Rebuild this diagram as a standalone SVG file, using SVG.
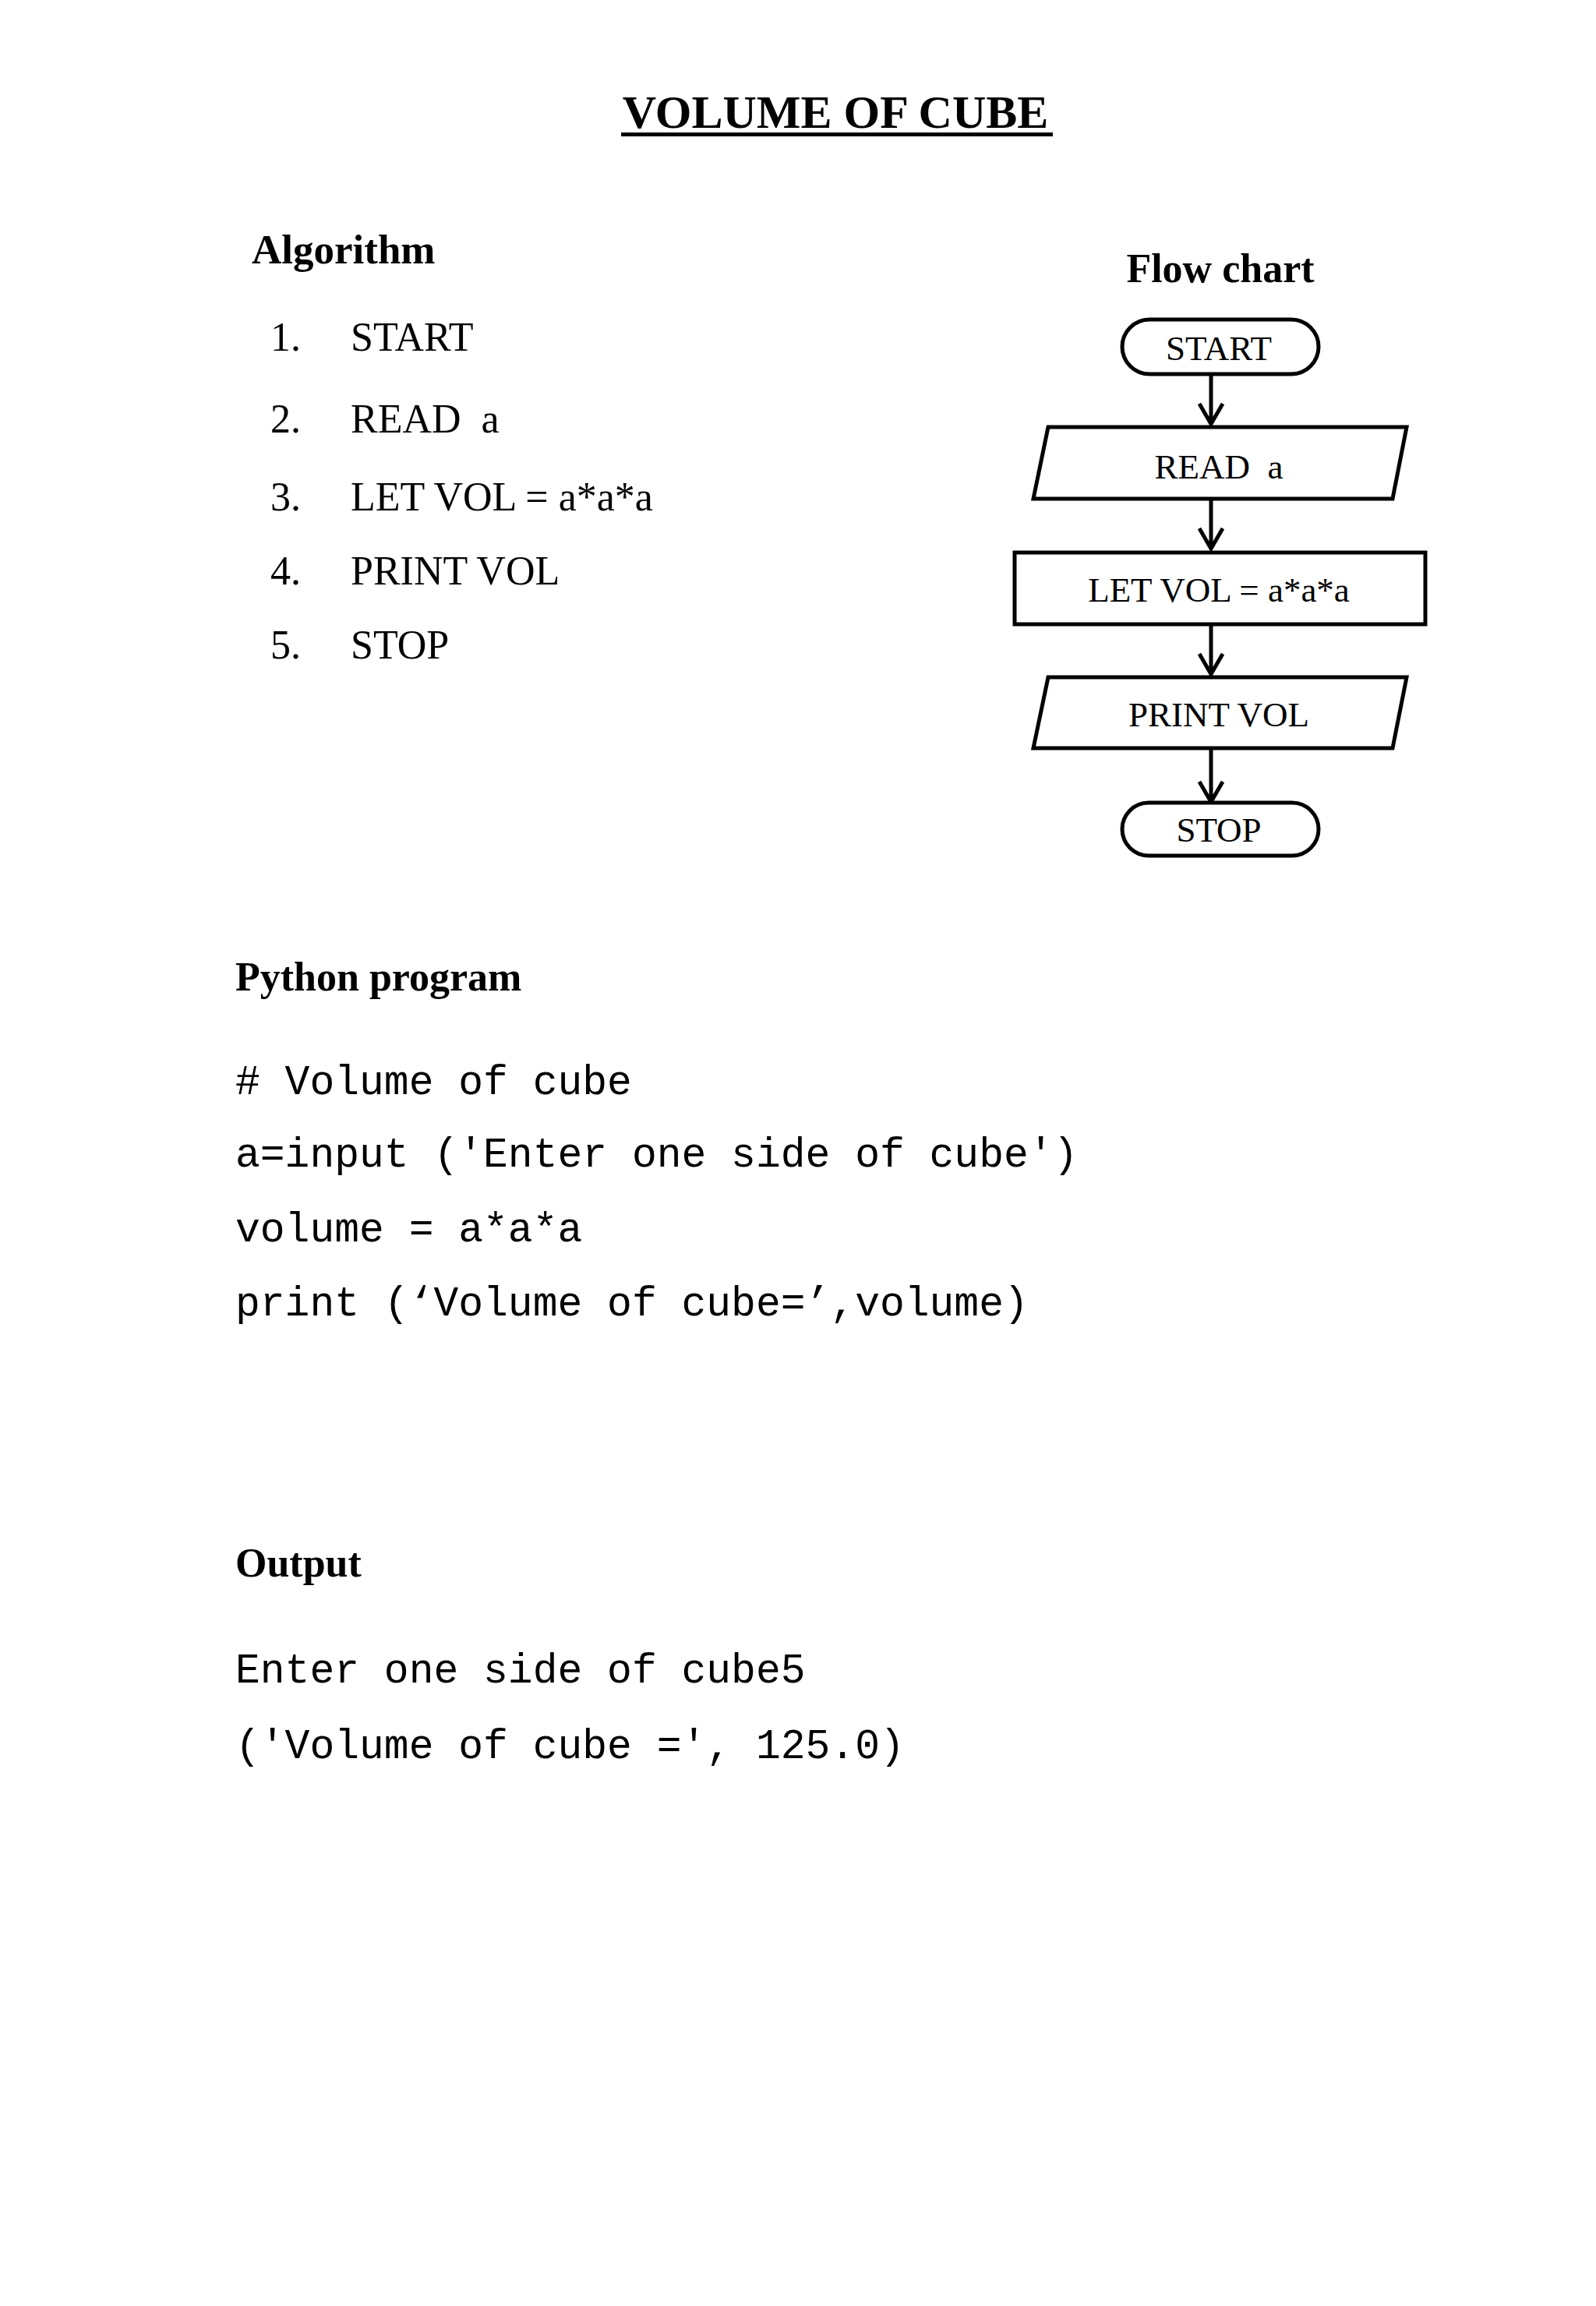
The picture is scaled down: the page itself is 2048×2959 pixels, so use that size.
<svg xmlns="http://www.w3.org/2000/svg" width="2048" height="2959" viewBox="0 0 2048 2959">
<style>
.t{font-family:"Liberation Serif","Times New Roman",serif;fill:#000}
.b{font-weight:bold}
.m{font-family:"Liberation Mono","Courier New",monospace;font-size:53px;fill:#000}
.s{fill:#fff;stroke:#000;stroke-width:5}
.c{stroke:#000;stroke-width:5;fill:none}
</style>
<rect width="2048" height="2959" fill="#fff"/>
<g id="title">
<text class="t b" x="1072" y="164" font-size="60" text-anchor="middle">VOLUME OF CUBE</text>
<rect x="797" y="170" width="554" height="5" fill="#000"/>
</g>
<g id="algorithm">
<text class="t b" x="323" y="338" font-size="53">Algorithm</text>
<g class="t" font-size="52">
<text x="347" y="450">1.</text><text x="450" y="450">START</text>
<text x="347" y="555">2.</text><text x="450" y="555" xml:space="preserve">READ  a</text>
<text x="347" y="655">3.</text><text x="450" y="655">LET VOL = a*a*a</text>
<text x="347" y="750">4.</text><text x="450" y="750">PRINT VOL</text>
<text x="347" y="845">5.</text><text x="450" y="845">STOP</text>
</g>
</g>
<text class="t b" x="1566" y="362" font-size="52" text-anchor="middle">Flow chart</text>
<g id="connectors" class="c">
<path d="M1554 480V544M1539 518L1554 544L1569 518"/>
<path d="M1554 639V704M1539 678L1554 704L1569 678"/>
<path d="M1554 800V865M1539 839L1554 865L1569 839"/>
<path d="M1554 959V1029M1539 1003L1554 1029L1569 1003"/>
</g>
<g id="start"><rect class="s" x="1440" y="410" width="252" height="70" rx="35"/><text class="t" x="1564" y="462" font-size="45" text-anchor="middle">START</text></g>
<g id="read"><polygon class="s" points="1345,548 1805,548 1787,640 1326,640"/><text class="t" x="1564" y="614" font-size="45" text-anchor="middle" xml:space="preserve">READ  a</text></g>
<g id="let"><rect class="s" x="1302" y="709" width="527" height="92"/><text class="t" x="1564" y="772" font-size="45" text-anchor="middle">LET VOL = a*a*a</text></g>
<g id="print"><polygon class="s" points="1345,869 1805,869 1787,960 1326,960"/><text class="t" x="1564" y="932" font-size="45" text-anchor="middle">PRINT VOL</text></g>
<g id="stop"><rect class="s" x="1440" y="1030" width="252" height="68" rx="34"/><text class="t" x="1564" y="1080" font-size="45" text-anchor="middle">STOP</text></g>
<g id="python">
<text class="t b" x="302" y="1271" font-size="52">Python program</text>
<text class="m" x="302" y="1404"># Volume of cube</text>
<text class="m" x="302" y="1497">a=input ('Enter one side of cube')</text>
<text class="m" x="302" y="1593">volume = a*a*a</text>
<text class="m" x="302" y="1688">print (‘Volume of cube=’,volume)</text>
</g>
<g id="output">
<text class="t b" x="302" y="2023" font-size="52">Output</text>
<text class="m" x="302" y="2159">Enter one side of cube5</text>
<text class="m" x="302" y="2256">('Volume of cube =', 125.0)</text>
</g>
</svg>
